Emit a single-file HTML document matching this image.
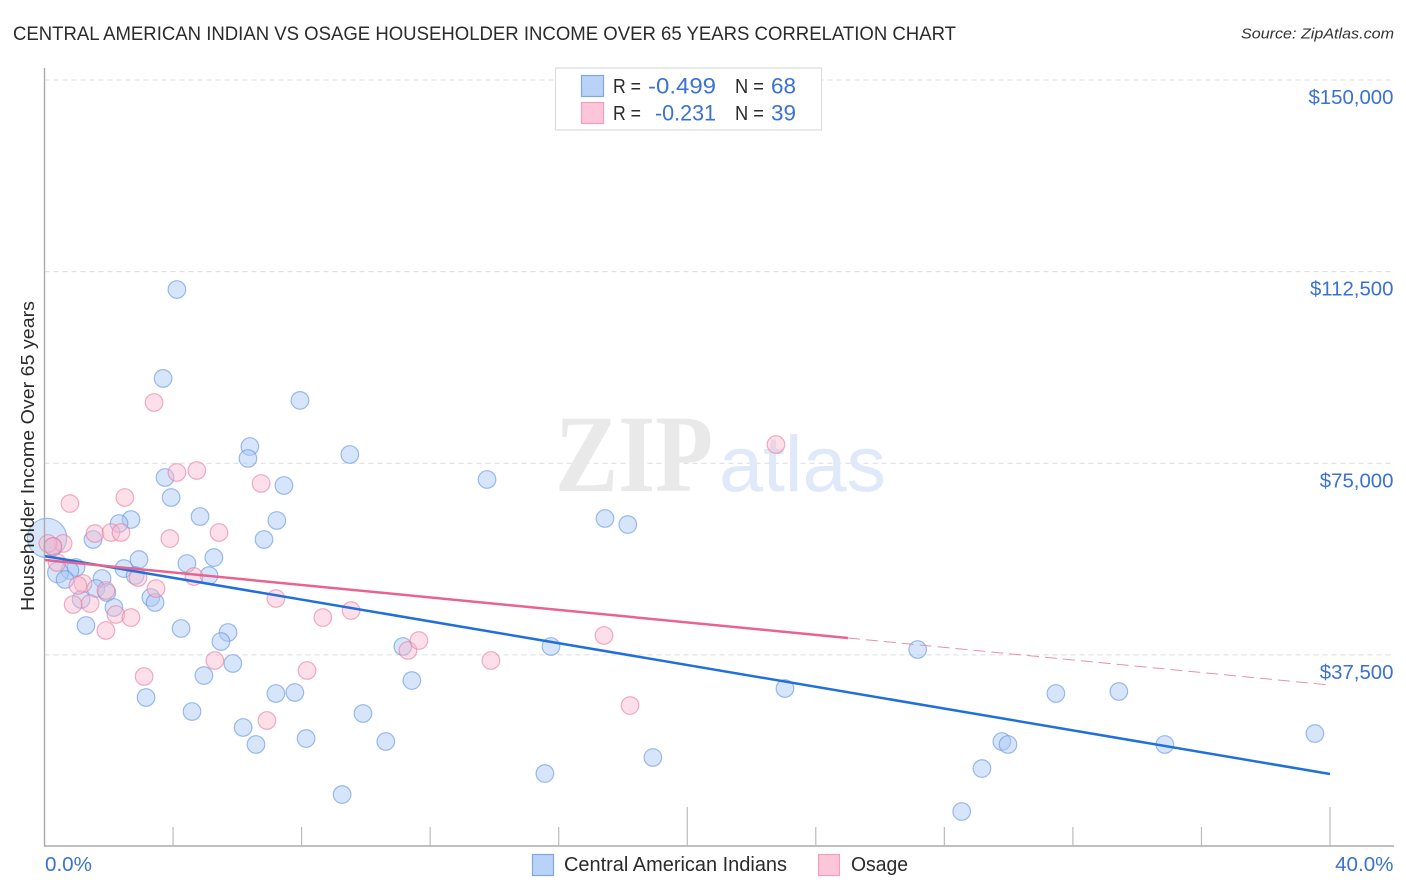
<!DOCTYPE html>
<html lang="en">
<head>
<meta charset="utf-8">
<title>Central American Indian vs Osage Householder Income Over 65 Years Correlation Chart</title>
<style>
html,body{margin:0;padding:0;background:#fff;}
svg{display:block;font-family:"Liberation Sans",sans-serif;}
</style>
</head>
<body>
<svg id="chart" xmlns="http://www.w3.org/2000/svg" width="1406" height="892" viewBox="0 0 1406 892">
  <rect x="0" y="0" width="1406" height="892" fill="#ffffff"/>
  <text x="13" y="40" font-size="19.5" fill="#2b2b2b" textLength="943" lengthAdjust="spacingAndGlyphs">CENTRAL AMERICAN INDIAN VS OSAGE HOUSEHOLDER INCOME OVER 65 YEARS CORRELATION CHART</text>
  <text x="1241" y="38.5" font-size="15" font-style="italic" fill="#333333" textLength="153" lengthAdjust="spacingAndGlyphs">Source: ZipAtlas.com</text>
  <g id="grid"></g>
  <g>
    <text x="555" y="491" font-family="'Liberation Serif',serif" font-weight="bold" font-size="110" fill="#e9e9e9" textLength="158" lengthAdjust="spacingAndGlyphs">ZIP</text>
    <text x="719" y="491" font-size="79" fill="#dfe9fa" textLength="167" lengthAdjust="spacingAndGlyphs">atlas</text>
  </g>
  <g id="points-blue"></g>
  <g id="points-pink"></g>
  <g id="trends"></g>
  <g id="axes"></g>
  <text transform="translate(34,611) rotate(-90)" font-size="18.5" fill="#2b2b2b" textLength="310" lengthAdjust="spacingAndGlyphs">Householder Income Over 65 years</text>
  <g>
    <rect x="555.5" y="68" width="266" height="62" fill="#ffffff" stroke="#dddddd" stroke-width="1.2"/>
    <rect x="581.5" y="75.5" width="22" height="21" fill="#b9d3f8" stroke="#7fa8e3" stroke-width="1.2"/>
    <rect x="581.5" y="102.5" width="22" height="21" fill="#fcc6d8" stroke="#f0a0bb" stroke-width="1.2"/>
    <text x="613" y="93" font-size="20" fill="#2b2b2b" textLength="28" lengthAdjust="spacingAndGlyphs">R =</text>
    <text x="648" y="93.5" font-size="22" fill="#3a72d4" textLength="68" lengthAdjust="spacingAndGlyphs">-0.499</text>
    <text x="735" y="93" font-size="20" fill="#2b2b2b" textLength="29" lengthAdjust="spacingAndGlyphs">N =</text>
    <text x="771" y="93.5" font-size="22" fill="#3a72d4" textLength="25" lengthAdjust="spacingAndGlyphs">68</text>
    <text x="613" y="120" font-size="20" fill="#2b2b2b" textLength="28" lengthAdjust="spacingAndGlyphs">R =</text>
    <text x="655" y="120.5" font-size="22" fill="#3a72d4" textLength="61" lengthAdjust="spacingAndGlyphs">-0.231</text>
    <text x="735" y="120" font-size="20" fill="#2b2b2b" textLength="29" lengthAdjust="spacingAndGlyphs">N =</text>
    <text x="771" y="120.5" font-size="22" fill="#3a72d4" textLength="25" lengthAdjust="spacingAndGlyphs">39</text>
  </g>
  <g>
    <rect x="532.5" y="854.5" width="21" height="21" fill="#b9d3f8" stroke="#7fa8e3" stroke-width="1.2"/>
    <text x="564" y="871" font-size="20" fill="#2b2b2b" textLength="223" lengthAdjust="spacingAndGlyphs">Central American Indians</text>
    <rect x="818.5" y="854.5" width="21" height="21" fill="#fcc6d8" stroke="#f0a0bb" stroke-width="1.2"/>
    <text x="851" y="871" font-size="20" fill="#2b2b2b" textLength="57" lengthAdjust="spacingAndGlyphs">Osage</text>
  </g>
</svg>
<script>
// Axis ticks
const yTickValues = [150000, 112500, 75000, 37500];
const yTickLabels = ["$150,000", "$112,500", "$75,000", "$37,500"];
const xTickValues = [0, 4, 8, 12, 16, 20, 24, 28, 32, 36, 40];
const xMajorTicks = [0, 20, 40];
const xEndLabels = ["0.0%", "40.0%"];

// Central American Indians: householder share (%), income ($), relative marker size
const blueX = [4.12,3.69,7.95,6.39,6.33,9.50,13.77,3.75,7.45,3.94,4.84,2.69,2.32,7.23,17.44,18.15,6.83,1.51,0.08,0.26,2.94,5.27,4.43,0.98,2.47,5.12,2.82,0.79,0.42,0.64,1.79,1.60,1.94,1.14,3.31,3.44,2.16,1.29,4.25,5.71,5.49,5.86,4.96,11.15,15.76,11.43,27.17,7.20,7.79,3.16,23.04,31.47,33.43,4.59,9.91,6.18,6.58,8.14,10.62,39.53,29.79,29.98,34.86,18.93,15.57,29.17,9.26,28.54];
const blueY = [109000,91600,87300,78280,75930,76710,71820,72210,70645,68300,64580,63990,63210,63800,64190,63010,60080,60080,60370,58710,56160,56550,55380,54600,54400,53030,53030,54010,53620,52250,52445,50490,49710,48340,48730,47750,46770,43250,42660,41880,40120,35810,33460,39140,39140,32480,38550,29940,30140,29160,30920,29940,30330,26420,26030,23290,19960,21130,20550,22110,20550,19960,19960,17420,14280,15260,10170,6850];
const blueSizes = [1,1,1,1,1,1,1,1,1,1,1,1,1,1,1,1,1,1,5,1,1,1,1,1,1,1,1,1,1.4,1,1,1,1,1,1,1,1,1,1,1,1,1,1,1,1,1,1,1,1,1,1,1,1,1,1,1,1,1,1,1,1,1,1,1,1,1,1,1];

// Osage
const pinkX = [4.12,4.74,6.74,0.79,2.50,5.43,3.90,1.57,2.07,2.38,0.58,0.11,0.26,0.39,4.65,2.91,3.47,1.20,1.91,1.42,0.89,2.22,2.69,1.91,7.20,8.66,9.54,5.30,8.17,3.10,6.92,3.41,22.76,11.31,11.65,13.89,17.41,18.22,1.04];
const pinkY = [73190,73580,71040,67120,68300,61450,60270,61250,61450,61450,59300,59300,58710,55580,52840,52640,50490,51470,50100,47550,47360,45400,44810,42270,48530,44810,46180,36400,34440,33270,24660,86890,78670,38360,40310,36400,41290,27590,51080];

// Trend lines: [x0, x1] and [y0, y1]
const blueTrendX = [0, 40];
const blueTrendY = [56850, 14190];
const pinkTrendX = [0, 25];
const pinkTrendY = [56070, 40800];
const pinkTrendDashX = [25, 40];
const pinkTrendDashY = [40800, 31600];

const NS = "http://www.w3.org/2000/svg";
function xScale(v) { return 44.5 + v * (1285.5 / 40); }
function yScale(v) { return 846.5 - v * (766.5 / 150000); }
function make(tag, attrs) {
  const el = document.createElementNS(NS, tag);
  for (const k in attrs) el.setAttribute(k, attrs[k]);
  return el;
}

const grid = document.getElementById("grid");
const axes = document.getElementById("axes");

yTickValues.forEach(function (v, i) {
  const line = make("line", {x1: 44.5, x2: 1394, y1: yScale(v), y2: yScale(v), stroke: "#dcdcdc", "stroke-width": 1, "stroke-dasharray": "5 4"});
  
  
  grid.appendChild(line);
  const label = make("text", {x: 1393.5, y: yScale(v) + 24, "font-size": 20.4, fill: "#3a72d4", "text-anchor": "end"});
  
  
  label.textContent = yTickLabels[i];
  axes.appendChild(label);
});

const yAxis = make("line", {x1: 44.5, x2: 44.5, y1: 68, y2: 846.5, stroke: "#aaaaaa", "stroke-width": 1.4});


axes.appendChild(yAxis);

const xAxis = make("line", {x1: 44, x2: 1394, y1: 846, y2: 846, stroke: "#aaaaaa", "stroke-width": 1.4});


axes.appendChild(xAxis);

xTickValues.forEach(function (v) {
  if (v === 0) return;
  const top = xMajorTicks.indexOf(v) >= 0 ? 807 : 827;
  const tick = make("line", {x1: xScale(v), x2: xScale(v), y1: top, y2: 846, stroke: "#bbbbbb", "stroke-width": 1.2});
  
  
  axes.appendChild(tick);
});

const xLabelLeft = make("text", {x: 45, y: 871, "font-size": 20.6, fill: "#3a72d4"});


xLabelLeft.textContent = xEndLabels[0];
axes.appendChild(xLabelLeft);

const xLabelRight = make("text", {x: 1393.5, y: 871, "font-size": 20.6, fill: "#3a72d4", "text-anchor": "end"});


xLabelRight.textContent = xEndLabels[1];
axes.appendChild(xLabelRight);

const blueGroup = document.getElementById("points-blue");
blueX.forEach(function (x, i) {
  const c = make("circle", {cx: xScale(x), cy: yScale(blueY[i]), r: 8.8 * Math.sqrt(blueSizes[i]), fill: "#a9c8f5", "fill-opacity": 0.47, stroke: "#5f93e0", "stroke-opacity": 0.6, "stroke-width": 1.2});
  
  
  blueGroup.appendChild(c);
});

const pinkGroup = document.getElementById("points-pink");
pinkX.forEach(function (x, i) {
  const c = make("circle", {cx: xScale(x), cy: yScale(pinkY[i]), r: 8.8, fill: "#f8b7cc", "fill-opacity": 0.45, stroke: "#e9799d", "stroke-opacity": 0.6, "stroke-width": 1.2});
  
  
  pinkGroup.appendChild(c);
});

const trends = document.getElementById("trends");

const blueTrend = make("line", {x1: xScale(blueTrendX[0]), x2: xScale(blueTrendX[1]), y1: yScale(blueTrendY[0]), y2: yScale(blueTrendY[1]), stroke: "#1f6fdc", "stroke-width": 2.5});


trends.appendChild(blueTrend);

const pinkTrend = make("line", {x1: xScale(pinkTrendX[0]), x2: xScale(pinkTrendX[1]), y1: yScale(pinkTrendY[0]), y2: yScale(pinkTrendY[1]), stroke: "#e8648f", "stroke-width": 2.5});


trends.appendChild(pinkTrend);

const pinkDash = make("line", {x1: xScale(pinkTrendDashX[0]), x2: xScale(pinkTrendDashX[1]), y1: yScale(pinkTrendDashY[0]), y2: yScale(pinkTrendDashY[1]), stroke: "#e98fae", "stroke-width": 1, "stroke-dasharray": "12 6"});


trends.appendChild(pinkDash);
</script>
</body>
</html>
